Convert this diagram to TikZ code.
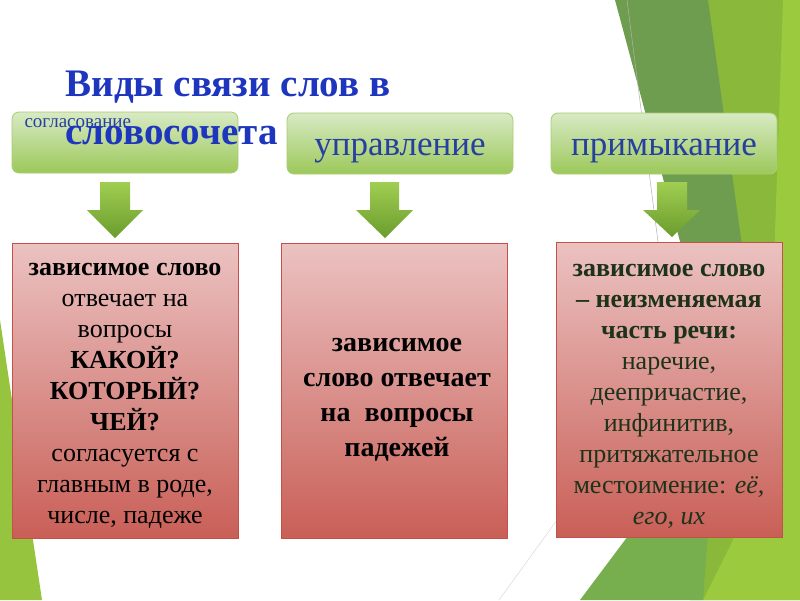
\documentclass[tikz,border=0pt]{standalone}
\usepackage{fontspec}
\setmainfont{Liberation Serif}
\definecolor{gTop}{HTML}{D8EAC4}
\definecolor{gBot}{HTML}{9CC85A}
\definecolor{gBorder}{HTML}{A9CD72}
\definecolor{rTop}{HTML}{EBC2C1}
\definecolor{rBot}{HTML}{C95F57}
\definecolor{rBorder}{HTML}{C4504A}
\definecolor{titleBlue}{HTML}{1E36BE}
\definecolor{labBlue}{HTML}{25409F}
\definecolor{darkG}{HTML}{6F9D50}
\definecolor{midG}{HTML}{77AF4F}
\definecolor{limeG}{HTML}{8AB83A}
\definecolor{brightG}{HTML}{9BCA3E}
\definecolor{leftG}{HTML}{96C43E}
\definecolor{arTop}{HTML}{A0CE52}
\definecolor{arBot}{HTML}{6B9C2C}
\definecolor{greenText}{HTML}{1E321B}
\begin{document}
\begin{tikzpicture}[x=1pt,y=-1pt,
  gbox/.style={draw=gBorder, line width=0.8pt, rounded corners=7pt, top color=gTop, bottom color=gBot, minimum width=226pt, minimum height=61pt, inner sep=0pt},
  rbox/.style={draw=rBorder, line width=0.8pt, top color=rTop, bottom color=rBot, minimum width=226pt, minimum height=295pt, inner sep=0pt},
  arrowshade/.style={top color=arTop, bottom color=arBot},
  glabel/.style={text=labBlue, font=\fontsize{35}{40}\selectfont, anchor=base},
  bodytext/.style={font=\fontsize{26}{31}\selectfont, align=center, inner sep=0pt},
  titletext/.style={anchor=base west, text=titleBlue, font=\bfseries\fontsize{39}{44}\selectfont}
]
\useasboundingbox (0,0) rectangle (800,600);
\fill[white] (0,0) rectangle (800,600);
% background facets
\fill[limeG] (700,0) -- (800,0) -- (800,600) -- (690,600) -- cycle;
\fill[brightG] (783,0) -- (800,0) -- (800,600) -- (703,600) -- (733,540) -- (770,380) -- cycle;
\fill[darkG] (615,0) -- (708,0) -- (780,520) -- (755,520) -- cycle;
\fill[midG] (580,600) -- (670,480) -- (712,480) -- (703,600) -- cycle;
\draw[gray!60, line width=0.5pt] (627,0) -- (668,320);
\draw[gray!30, line width=0.5pt] (499,600) -- (560,516);
\fill[leftG] (0,320) -- (42,600) -- (0,600) -- cycle;
% top boxes
\node[gbox] (b1) at (125,142.5) {};
\node[anchor=base west, text=labBlue, font=\fontsize{19}{21}\selectfont] (lab1) at (21,127) {согласование};
\node[titletext] (t1) at (62,96) {Виды связи слов в};
\node[titletext] (t2) at (62,144) {словосочета};
\node[gbox] (b2) at (400,143.5) {};
\node[glabel] (lab2) at (400,155) {управление};
\node[gbox] (b3) at (664,143.5) {};
\node[glabel] (lab3) at (664,155) {примыкание};
% arrows
\shade[arrowshade] (100,182) -- (130,182) -- (130,210) -- (143,210) -- (115,238) -- (87,210) -- (100,210) -- cycle;
\shade[arrowshade] (370,182) -- (399,182) -- (399,210) -- (413,210) -- (385,238) -- (356,210) -- (370,210) -- cycle;
\shade[arrowshade] (657,182) -- (687,182) -- (687,210) -- (700,210) -- (672,237) -- (643,210) -- (657,210) -- cycle;
% bottom boxes
\node[rbox] (r1) at (125,390.5) {};
\node[rbox] (r2) at (394,390.5) {};
\node[rbox] (r3) at (669,390) {};
\node[bodytext] (r1t) at (125,396) {\textbf{зависимое слово}\\отвечает на\\вопросы\\\textbf{КАКОЙ?}\\\textbf{КОТОРЫЙ?}\\\textbf{ЧЕЙ?}\\согласуется с\\главным в роде,\\числе, падеже};
\node[bodytext, font=\bfseries\fontsize{28}{35}\selectfont] (r2t) at (397,400) {зависимое\\слово отвечает\\на\ \ вопросы\\падежей};
\node[bodytext, text=greenText] (r3t) at (669,396) {\textbf{зависимое слово}\\\textbf{– неизменяемая}\\\textbf{часть речи:}\\наречие,\\деепричастие,\\инфинитив,\\притяжательное\\местоимение: \textit{её,}\\\textit{его, их}};
\end{tikzpicture}
\end{document}
